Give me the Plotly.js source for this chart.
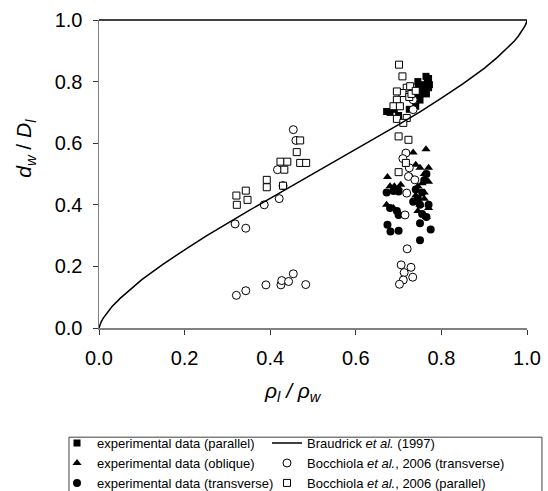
<!DOCTYPE html>
<html>
<head>
<meta charset="utf-8">
<script src="https://cdn.plot.ly/plotly-3.0.1.min.js"></script>
<style>html,body{margin:0;padding:0;background:#fff;}#chart{width:548px;height:491px;}</style>
</head>
<body>
<div id="chart"></div>
<script>
// Braudrick et al. (1997) curve
const braudX = [0, 0.002, 0.005, 0.01, 0.02, 0.03, 0.05, 0.07, 0.1, 0.15, 0.2, 0.25, 0.3, 0.35, 0.4, 0.45, 0.5,
                0.55, 0.6, 0.65, 0.7, 0.75, 0.8, 0.85, 0.9, 0.93, 0.95, 0.97, 0.98, 0.99, 0.995, 0.998, 1];
const braudY = [0, 0.011, 0.020, 0.032, 0.052, 0.069, 0.097, 0.122, 0.157, 0.207, 0.254, 0.298, 0.340, 0.381, 0.421, 0.461, 0.50,
                0.539, 0.579, 0.619, 0.660, 0.702, 0.746, 0.793, 0.843, 0.878, 0.903, 0.931, 0.948, 0.968, 0.980, 0.989, 1];

// experimental data (parallel) - filled squares
const expParX = [0.68, 0.672, 0.69, 0.70, 0.74, 0.75, 0.746, 0.754, 0.76, 0.764, 0.767, 0.772, 0.77, 0.76, 0.75, 0.74, 0.765, 0.725, 0.745, 0.77];
const expParY = [0.70, 0.703, 0.71, 0.69, 0.75, 0.74, 0.785, 0.775, 0.79, 0.817, 0.80, 0.79, 0.78, 0.77, 0.76, 0.72, 0.76, 0.71, 0.80, 0.81];

// experimental data (oblique) - filled triangles
const expOblX = [0.734, 0.764, 0.74, 0.75, 0.76, 0.77, 0.674, 0.77, 0.69, 0.70, 0.68, 0.745, 0.76, 0.74, 0.672, 0.688, 0.75, 0.77, 0.76, 0.73, 0.705, 0.755, 0.765, 0.745];
const expOblY = [0.57, 0.58, 0.53, 0.52, 0.50, 0.52, 0.49, 0.475, 0.46, 0.455, 0.46, 0.46, 0.44, 0.43, 0.40, 0.39, 0.40, 0.39, 0.42, 0.49, 0.465, 0.47, 0.36, 0.38];

// experimental data (transverse) - filled circles
const expTrX = [0.672, 0.688, 0.70, 0.734, 0.696, 0.70, 0.75, 0.77, 0.755, 0.765, 0.75, 0.775, 0.674, 0.681, 0.70, 0.75, 0.76, 0.765, 0.74, 0.755, 0.745, 0.68];
const expTrY = [0.44, 0.445, 0.443, 0.41, 0.38, 0.367, 0.40, 0.40, 0.37, 0.36, 0.34, 0.32, 0.335, 0.313, 0.316, 0.285, 0.48, 0.50, 0.45, 0.44, 0.42, 0.39];

// Bocchiola et al., 2006 (transverse) - open circles
const bocTrX = [0.321, 0.343, 0.390, 0.425, 0.427, 0.443, 0.454, 0.483,
                0.454, 0.46, 0.417, 0.43, 0.421, 0.386, 0.318, 0.343,
                0.734, 0.734, 0.717, 0.723, 0.738, 0.719, 0.715, 0.72, 0.706, 0.729, 0.713, 0.733, 0.711, 0.702, 0.725, 0.71];
const bocTrY = [0.106, 0.121, 0.140, 0.140, 0.154, 0.151, 0.176, 0.141,
                0.644, 0.609, 0.514, 0.462, 0.42, 0.40, 0.338, 0.324,
                0.741, 0.709, 0.568, 0.492, 0.481, 0.438, 0.367, 0.257, 0.205, 0.197, 0.18, 0.165, 0.156, 0.142, 0.52, 0.55];

// Bocchiola et al., 2006 (parallel) - open squares
const bocParX = [0.47, 0.462, 0.424, 0.44, 0.47, 0.484, 0.433, 0.392, 0.392, 0.43, 0.343, 0.347, 0.321, 0.322,
                 0.701, 0.709, 0.719, 0.727, 0.709, 0.696, 0.696, 0.688, 0.703, 0.696, 0.719, 0.711, 0.70, 0.723, 0.717, 0.70, 0.725, 0.73, 0.74];
const bocParY = [0.609, 0.571, 0.54, 0.54, 0.536, 0.536, 0.514, 0.481, 0.457, 0.462, 0.446, 0.416, 0.43, 0.40,
                 0.855, 0.817, 0.78, 0.785, 0.763, 0.768, 0.741, 0.72, 0.72, 0.679, 0.682, 0.666, 0.622, 0.611, 0.536, 0.506, 0.75, 0.76, 0.77];

const tickVals = [0, 0.2, 0.4, 0.6, 0.8, 1.0];
const tickText = ['0.0', '0.2', '0.4', '0.6', '0.8', '1.0'];

const FONT = 'Liberation Sans, Arial, sans-serif';

const traces = [
  {x: expParX, y: expParY, type: 'scatter', mode: 'markers', name: 'experimental data (parallel)', legend: 'legend', legendrank: 1,
   marker: {symbol: 'square', size: 7, color: '#000'}},
  {x: expOblX, y: expOblY, type: 'scatter', mode: 'markers', name: 'experimental data (oblique)', legend: 'legend', legendrank: 2,
   marker: {symbol: 'triangle-up', size: 8, color: '#000'}},
  {x: expTrX, y: expTrY, type: 'scatter', mode: 'markers', name: 'experimental data (transverse)', legend: 'legend', legendrank: 3,
   marker: {symbol: 'circle', size: 8, color: '#000'}},
  {x: bocTrX, y: bocTrY, type: 'scatter', mode: 'markers', name: 'Bocchiola <i>et al.</i>, 2006 (transverse)', legend: 'legend2', legendrank: 2,
   marker: {symbol: 'circle', size: 8, color: '#fff', line: {color: '#000', width: 1}}},
  {x: bocParX, y: bocParY, type: 'scatter', mode: 'markers', name: 'Bocchiola <i>et al.</i>, 2006 (parallel)', legend: 'legend2', legendrank: 3,
   marker: {symbol: 'square', size: 7, color: '#fff', line: {color: '#000', width: 1}}},
  {x: braudX, y: braudY, type: 'scatter', mode: 'lines', name: 'Braudrick <i>et al.</i> (1997)', legend: 'legend2', legendrank: 1,
   line: {color: '#000', width: 1.5, shape: 'linear'}}
];

const axisCommon = {
  range: [0, 1], tickvals: tickVals, ticktext: tickText,
  showgrid: false, zeroline: false, showline: true, linecolor: '#808080', linewidth: 1.5,
  ticks: 'outside', ticklen: 5, tickcolor: '#333', tickwidth: 1,
  tickfont: {family: FONT, size: 20, color: '#000'}, fixedrange: true
};

const legendCommon = {
  orientation: 'v', xref: 'paper', yref: 'paper', y: -0.3252, xanchor: 'left', yanchor: 'top',
  traceorder: 'normal', borderwidth: 0, bgcolor: 'rgba(0,0,0,0)',
  font: {family: FONT, size: 13, color: '#000'}
};

const layout = {
  width: 548, height: 491,
  margin: {l: 99, r: 21, t: 20, b: 163, autoexpand: false},
  paper_bgcolor: '#fff', plot_bgcolor: '#fff',
  font: {family: FONT, color: '#000'},
  xaxis: Object.assign({}, axisCommon, {ticklabelstandoff: 6}),
  yaxis: Object.assign({}, axisCommon, {ticklabelstandoff: 6}),
  showlegend: true,
  legend: Object.assign({}, legendCommon, {x: -0.0981}),
  legend2: Object.assign({}, legendCommon, {x: 0.3925}),
  shapes: [
    {type: 'line', xref: 'paper', yref: 'paper', x0: 0, x1: 1, y0: 1, y1: 1, line: {color: '#000', width: 1.5}},
    {type: 'rect', xref: 'paper', yref: 'paper', x0: -0.0701, x1: 1.035, y0: -0.3545, y1: -0.62,
     line: {color: '#404040', width: 1}, fillcolor: 'rgba(0,0,0,0)'}
  ],
  annotations: [
    {xref: 'paper', yref: 'paper', x: 0.453, y: -0.208, xanchor: 'center', yanchor: 'middle', showarrow: false,
     text: '<i>ρ</i><sub><i>l</i></sub><i> / ρ</i><sub><i>w</i></sub>', font: {family: FONT, size: 21, color: '#000'}},
    {xref: 'paper', yref: 'paper', x: -0.173, y: 0.585, xanchor: 'center', yanchor: 'middle', showarrow: false, textangle: -90,
     text: '<i>d</i><sub><i>w</i></sub> / <i>D</i><sub><i>l</i></sub>', font: {family: FONT, size: 21, color: '#000'}}
  ]
};

Plotly.newPlot('chart', traces, layout, {displayModeBar: false, staticPlot: true});
</script>
</body>
</html>
